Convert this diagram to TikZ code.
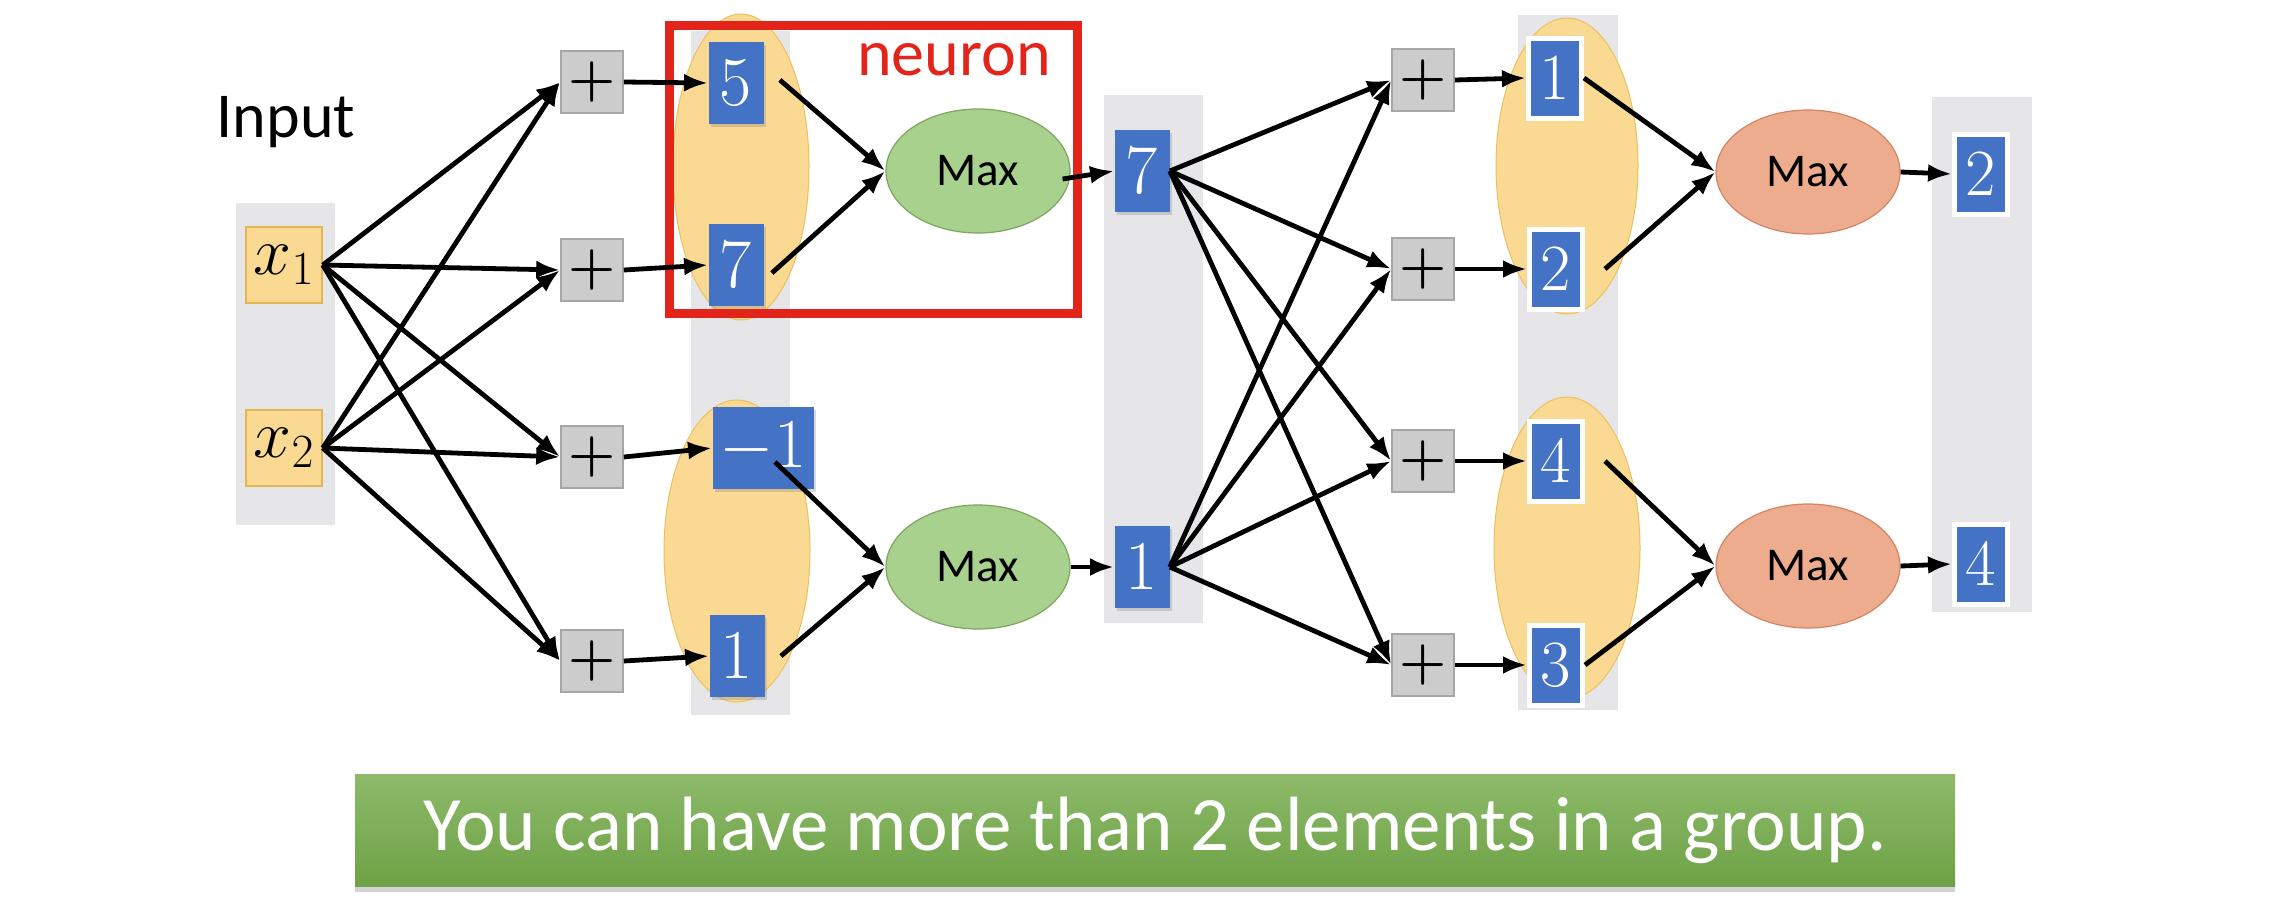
\documentclass[tikz,border=0pt]{standalone}
\usepackage{fix-cm}
\usepackage{fontspec}
\setsansfont{Carlito}
\usetikzlibrary{arrows.meta,shapes.geometric,shadows}
\definecolor{colgrey}{RGB}{230,230,232}
\definecolor{grpyellow}{RGB}{250,217,146}
\definecolor{grpedge}{RGB}{236,192,95}
\definecolor{inedge}{RGB}{226,182,82}
\definecolor{plusgrey}{RGB}{204,204,204}
\definecolor{plusedge}{RGB}{166,166,166}
\definecolor{boxblue}{RGB}{68,114,196}
\definecolor{greenfill}{RGB}{169,209,142}
\definecolor{greenedge}{RGB}{125,165,95}
\definecolor{orangefill}{RGB}{238,172,142}
\definecolor{orangeedge}{RGB}{210,132,100}
\definecolor{neuronred}{RGB}{226,36,26}
\definecolor{bannertop}{RGB}{141,186,106}
\definecolor{bannerbot}{RGB}{110,162,70}
\begin{document}
\begin{tikzpicture}[x=0.5pt,y=-0.5pt,
    conn/.style={-{Latex[length=12pt,width=9pt]},line width=2.4pt},
    column/.style={fill=colgrey},
    group/.style={ellipse,fill=grpyellow,draw=grpedge,line width=0.5pt,inner sep=0pt},
    inbox/.style={draw=inedge,fill=grpyellow,line width=0.8pt,minimum width=38pt,minimum height=38pt,inner sep=0pt,font=\fontsize{34}{34}\selectfont},
    plusbox/.style={draw=plusedge,fill=plusgrey,line width=0.8pt,minimum width=31pt,minimum height=31pt,inner sep=0pt,font=\bfseries\fontsize{27}{27}\selectfont},
    valbox/.style={fill=boxblue,text=white,minimum width=27.5pt,minimum height=41pt,inner sep=0pt,font=\fontsize{35}{35}\selectfont,drop shadow={shadow xshift=1pt,shadow yshift=-1.5pt,opacity=0.3}},
    outbox/.style={fill=boxblue,draw=white,text=white,line width=2.5pt,minimum width=26.5pt,minimum height=40pt,inner sep=0pt,font=\fontsize{33}{33}\selectfont},
    poolgreen/.style={ellipse,fill=greenfill,draw=greenedge,line width=0.6pt,minimum width=92pt,minimum height=62pt,inner sep=0pt,font=\sffamily\fontsize{23.5}{24}\selectfont},
    poolorange/.style={poolgreen,fill=orangefill,draw=orangeedge},
    banner/.style={minimum width=800pt,minimum height=56pt,top color=bannertop,bottom color=bannerbot,text=white,font=\sffamily\fontsize{38.5}{40}\selectfont,drop shadow={shadow xshift=0pt,shadow yshift=-3pt,opacity=0.35}}]
  \useasboundingbox (0,0) rectangle (2282,906);
  \fill[column] (236,203) rectangle (335,525);
  \fill[column] (691,31) rectangle (790,715);
  \fill[column] (1104,95) rectangle (1203,623);
  \fill[column] (1518,15) rectangle (1618,710);
  \fill[column] (1932,97) rectangle (2032,612);
  \node[group,minimum width=68pt,minimum height=153pt] (g1) at (741,167) {};
  \node[group,minimum width=73pt,minimum height=151pt] (g2) at (737,551) {};
  \node[group,minimum width=71pt,minimum height=148pt] (g3) at (1567,166) {};
  \node[group,minimum width=73pt,minimum height=151pt] (g4) at (1567,548) {};
  \draw[neuronred,line width=4.5pt] (669,25) rectangle (1077,313);
  \node[anchor=base,text=neuronred,font=\sffamily\fontsize{33}{34}\selectfont] (neuron) at (954,75) {neuron};
  \node[anchor=base,font=\sffamily\fontsize{32}{34}\selectfont] (input) at (286,137) {Input};
  \node[inbox] (in1) at (284,265) {$x_1$};
  \node[inbox] (in2) at (284,448) {$x_2$};
  \node[plusbox] (p1) at (592,82) {+};
  \node[plusbox] (p2) at (592,270) {+};
  \node[plusbox] (p3) at (592,457) {+};
  \node[plusbox] (p4) at (592,661) {+};
  \node[valbox] (v1) at (736,83) {$5$};
  \node[valbox] (v2) at (736,265) {$7$};
  \node[valbox,minimum width=50.5pt] (v3) at (763,448) {$-1$};
  \node[valbox] (v4) at (737,656) {$1$};
  \node[poolgreen] (mx1) at (978,171) {Max};
  \node[poolgreen] (mx2) at (978,567) {Max};
  \node[valbox] (h1) at (1142,171) {$7$};
  \node[valbox] (h2) at (1142,567) {$1$};
  \node[plusbox] (q1) at (1423,80) {+};
  \node[plusbox] (q2) at (1423,269) {+};
  \node[plusbox] (q3) at (1423,461) {+};
  \node[plusbox] (q4) at (1423,665) {+};
  \node[outbox] (w1) at (1555,78) {$1$};
  \node[outbox] (w2) at (1556,269) {$2$};
  \node[outbox] (w3) at (1556,461) {$4$};
  \node[outbox] (w4) at (1556,665) {$3$};
  \node[poolorange] (my1) at (1808,172) {Max};
  \node[poolorange] (my2) at (1808,566) {Max};
  \node[outbox] (o1) at (1981,174) {$2$};
  \node[outbox] (o2) at (1981,564) {$4$};
  \node[banner] (note) at (1155,830) {You can have more than 2 elements in a group.};
  \draw[conn] (in1.east) -- (p1.west);
  \draw[conn] (in1.east) -- (p2.west);
  \draw[conn] (in1.east) -- (p3.west);
  \draw[conn] (in1.east) -- (p4.west);
  \draw[conn] (in2.east) -- (p1.west);
  \draw[conn] (in2.east) -- (p2.west);
  \draw[conn] (in2.east) -- (p3.west);
  \draw[conn] (in2.east) -- (p4.west);
  \draw[conn] (p1.east) -- (v1.west);
  \draw[conn] (p2.east) -- (v2.west);
  \draw[conn] (p3.east) -- (v3.west);
  \draw[conn] (p4.east) -- (v4.west);
  \draw[conn] ([xshift=8pt,yshift=1.5pt]v1.east) -- (mx1.west);
  \draw[conn] ([xshift=4pt,yshift=-4pt]v2.east) -- (mx1.west);
  \draw[conn] ([shift={(6pt,-7pt)}]v3.center) -- (mx2.west);
  \draw[conn] ([xshift=8pt]v4.east) -- (mx2.west);
  \draw[conn] ([xshift=-4pt,yshift=-4pt]mx1.east) -- (h1.west);
  \draw[conn] (mx2.east) -- (h2.west);
  \draw[conn] (h1.east) -- (q1.west);
  \draw[conn] (h1.east) -- (q2.west);
  \draw[conn] (h1.east) -- (q3.west);
  \draw[conn] (h1.east) -- (q4.west);
  \draw[conn] (h2.east) -- (q1.west);
  \draw[conn] (h2.east) -- (q2.west);
  \draw[conn] (h2.east) -- (q3.west);
  \draw[conn] (h2.east) -- (q4.west);
  \draw[conn] (q1.east) -- (w1.west);
  \draw[conn] (q2.east) -- (w2.west);
  \draw[conn] (q3.east) -- (w3.west);
  \draw[conn] (q4.east) -- (w4.west);
  \draw[conn] (w1.east) -- (my1.west);
  \draw[conn] ([xshift=10pt]w2.east) -- (my1.west);
  \draw[conn] ([xshift=10pt]w3.east) -- (my2.west);
  \draw[conn] (w4.east) -- (my2.west);
  \draw[conn] (my1.east) -- (o1.west);
  \draw[conn] (my2.east) -- (o2.west);
\end{tikzpicture}
\end{document}
